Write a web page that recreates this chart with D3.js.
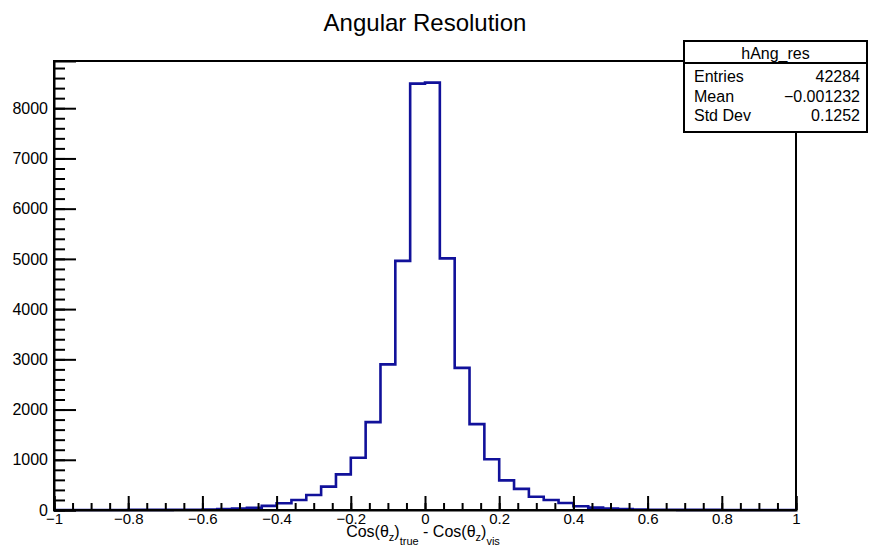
<!DOCTYPE html>
<html>
<head>
<meta charset="utf-8">
<script src="https://cdn.jsdelivr.net/npm/d3@7"></script>
<style>
  body { margin: 0; background: #fff; }
  svg text { font-family: "Liberation Sans", Arial, sans-serif; fill: #000; }
</style>
</head>
<body>
<div class="chart"></div>
<script>
// histogram contents, 50 bins of width 0.04 from -1 to 1
var binLow  = -1;
var binWidth = 0.04;
var counts = [
  0, 0, 0, 1, 1, 2, 2, 3, 4, 6,
  10, 18, 28, 45, 82, 135, 200, 300, 465, 710,
  1040, 1750, 2900, 4960, 8490, 8510, 5010, 2830, 1710, 1010,
  590, 420, 265, 200, 140, 75, 48, 28, 17, 10,
  6, 4, 3, 2, 2, 1, 1, 0, 0, 0
];
var xTicks = [-1, -0.8, -0.6, -0.4, -0.2, 0, 0.2, 0.4, 0.6, 0.8, 1];
var xTickLabels = ["\u22121", "\u22120.8", "\u22120.6", "\u22120.4", "\u22120.2", "0", "0.2", "0.4", "0.6", "0.8", "1"];
var yTicks = [0, 1000, 2000, 3000, 4000, 5000, 6000, 7000, 8000];
var statNames  = ["Entries", "Mean", "Std Dev"];
var statValues = ["42284", "\u22120.001232", "0.1252"];
var histName = "hAng_res";
var yMax = 8940;

function drawChart()
{
  var width = 869, height = 553;
  var fLeft = 54, fRight = 796, fTop = 61, fBottom = 510;

  var svg = d3.select(".chart").append("svg").attr("width", width).attr("height", height);

  var x = d3.scaleLinear().domain([-1, 1]).range([fLeft, fRight]);
  var y = d3.scaleLinear().domain([0, yMax]).range([fBottom, fTop]);

  // histogram outline
  var pts = [[-1, 0]];
  counts.forEach(function(c, i) {
    var lo = binLow + i * binWidth;
    pts.push([lo, c]);
    pts.push([lo + binWidth, c]);
  });
  pts.push([1, 0]);

  var line = d3.line()
    .x(function(d) { return x(d[0]); })
    .y(function(d) { return y(d[1]); });

  svg.append("path").datum(pts)
    .attr("d", line)
    .attr("fill", "none")
    .attr("stroke", "#11119a")
    .attr("stroke-width", 2.6);

  // frame
  svg.append("rect")
    .attr("x", fLeft).attr("y", fTop)
    .attr("width", fRight - fLeft).attr("height", fBottom - fTop)
    .attr("fill", "none").attr("stroke", "#000").attr("stroke-width", 2);

  // minor ticks
  var yMinor = d3.range(0, 8801, 200);
  svg.append("g").attr("transform", "translate(" + fLeft + ",0)")
    .call(d3.axisLeft(y).tickValues(yMinor).tickSize(-11).tickFormat(""))
    .call(function(g) { g.select(".domain").remove(); g.selectAll("line").attr("stroke-width", 2); });

  var xMinor = d3.range(0, 41).map(function(i) { return -1 + i * 0.05; });
  svg.append("g").attr("transform", "translate(0," + fBottom + ")")
    .call(d3.axisBottom(x).tickValues(xMinor).tickSize(-7).tickFormat(""))
    .call(function(g) { g.select(".domain").remove(); g.selectAll("line").attr("stroke-width", 2); });

  // major ticks and labels
  svg.append("g").attr("transform", "translate(" + fLeft + ",0)")
    .call(d3.axisLeft(y).tickValues(yTicks).tickSize(-22).tickPadding(6).tickFormat(d3.format("d")))
    .call(function(g) {
      g.select(".domain").attr("stroke-width", 2);
      g.selectAll("line").attr("stroke-width", 2);
      g.selectAll("text").style("font-size", "16px").attr("font-family", null);
    });

  svg.append("g").attr("transform", "translate(0," + fBottom + ")")
    .call(d3.axisBottom(x).tickValues(xTicks).tickSize(-14).tickPadding(3)
      .tickFormat(function(d, i) { return xTickLabels[i]; }))
    .call(function(g) {
      g.select(".domain").attr("stroke-width", 2);
      g.selectAll("line").attr("stroke-width", 2);
      g.selectAll("text").style("font-size", "15px").attr("font-family", null);
    });

  // title
  svg.append("text")
    .attr("x", 425).attr("y", 31)
    .attr("text-anchor", "middle")
    .style("font-size", "24px")
    .text("Angular Resolution");

  // x axis title
  var xt = svg.append("text")
    .attr("x", 423).attr("y", 537)
    .attr("text-anchor", "middle")
    .style("font-size", "16px");
  xt.append("tspan").text("Cos(\u03b8");
  xt.append("tspan").attr("dy", 4).style("font-size", "11px").text("z");
  xt.append("tspan").attr("dy", -4).text(")");
  xt.append("tspan").attr("dy", 8).style("font-size", "11px").text("true");
  xt.append("tspan").attr("dy", -8).text(" - Cos(\u03b8");
  xt.append("tspan").attr("dy", 4).style("font-size", "11px").text("z");
  xt.append("tspan").attr("dy", -4).text(")");
  xt.append("tspan").attr("dy", 8).style("font-size", "11px").text("vis");

  // stats box
  var bx = 684, by = 41, bw = 183, bh = 91;
  var box = svg.append("g");
  box.append("rect")
    .attr("x", bx).attr("y", by).attr("width", bw).attr("height", bh)
    .attr("fill", "#fff").attr("stroke", "#000").attr("stroke-width", 2);
  box.append("line")
    .attr("x1", bx).attr("x2", bx + bw).attr("y1", 63).attr("y2", 63)
    .attr("stroke", "#000").attr("stroke-width", 2);
  box.append("text")
    .attr("x", bx + bw / 2).attr("y", 59)
    .attr("text-anchor", "middle").style("font-size", "16px")
    .text(histName);
  statNames.forEach(function(n, i) {
    var yy = 82 + i * 19.5;
    box.append("text").attr("x", 694).attr("y", yy).style("font-size", "16px").text(n);
    box.append("text").attr("x", 860).attr("y", yy).attr("text-anchor", "end")
      .style("font-size", "16px").text(statValues[i]);
  });
}

drawChart();
</script>
</body>
</html>
